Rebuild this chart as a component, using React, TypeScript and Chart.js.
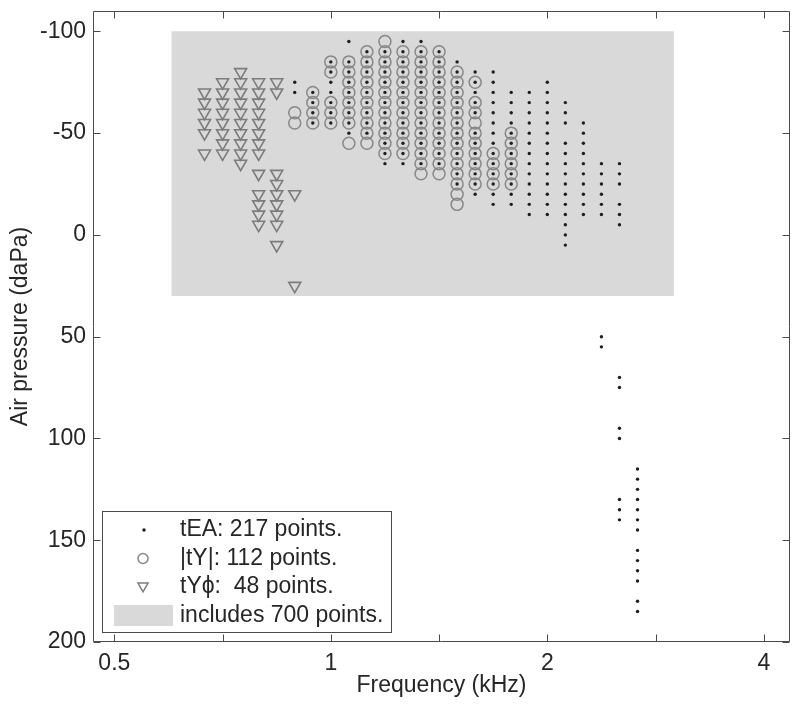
import React, { useEffect, useRef } from 'react';
import { Chart, registerables } from 'chart.js';

Chart.register(...registerables);

// Test frequencies in 1/12-octave steps (kHz)
const FREQ_KHZ = [
  0.6674, 0.7071, 0.7492, 0.7937, 0.8409, 0.8909, 0.9439, 1.0, 1.0595, 1.1225,
  1.1892, 1.2599, 1.3348, 1.4142, 1.4983, 1.5874, 1.6818, 1.7818, 1.8877, 2.0,
  2.1189, 2.2449, 2.3784, 2.5198, 2.6697,
];

// tEA: air pressures (daPa) per frequency column
const TEA_DAPA: number[][] = [
  [], [], [], [], [],
  [-75, -70],
  [-70, -65, -60, -55],
  [-85, -80, -75, -70, -65, -60, -55],
  [-95, -85, -80, -75, -70, -65, -60, -55, -50],
  [-90, -85, -80, -75, -70, -65, -60, -55, -50],
  [-90, -85, -80, -75, -70, -65, -60, -55, -50, -45, -40, -35],
  [-95, -90, -85, -80, -75, -70, -65, -60, -55, -50, -45, -40, -35],
  [-95, -90, -85, -80, -75, -70, -65, -60, -55, -50, -45, -40, -35],
  [-90, -85, -80, -75, -70, -65, -60, -55, -50, -45, -40, -35],
  [-85, -80, -75, -70, -65, -60, -55, -50, -45, -40, -35, -30, -25],
  [-80, -75, -70, -65, -60, -50, -45, -40, -35, -30, -25, -20],
  [-80, -75, -70, -65, -60, -55, -50, -45, -40, -35, -30, -25, -20, -15],
  [-70, -65, -60, -55, -50, -45, -40, -35, -30, -25, -20, -15],
  [-70, -65, -60, -55, -50, -45, -40, -35, -30, -25, -20, -15, -10],
  [-75, -70, -65, -60, -55, -50, -45, -40, -35, -30, -25, -20, -15, -10],
  [-65, -60, -55, -45, -40, -35, -30, -25, -20, -15, -10, -5, 0, 5],
  [-55, -50, -45, -40, -35, -30, -25, -20, -15, -10],
  [-35, -30, -25, -20, -15, -10, 50, 55],
  [-35, -30, -25, -15, -10, -5, 70, 75, 95, 100, 130, 135, 140],
  [115, 120, 125, 130, 135, 140, 145, 155, 160, 165, 170, 180, 185],
];

// |tY|: air pressures (daPa) per frequency column
const TY_MAG_DAPA: number[][] = [
  [], [], [], [], [],
  [-60, -55],
  [-70, -65, -60, -55],
  [-85, -80, -65, -60, -55],
  [-85, -80, -75, -70, -65, -60, -55, -45],
  [-90, -85, -80, -75, -70, -65, -60, -55, -50, -45],
  [-95, -90, -85, -80, -75, -70, -65, -60, -55, -50, -45, -40],
  [-90, -85, -80, -75, -70, -65, -60, -55, -50, -45, -40],
  [-90, -85, -80, -75, -70, -65, -60, -55, -50, -45, -40, -35, -30],
  [-90, -85, -80, -75, -70, -65, -60, -55, -50, -45, -40, -35, -30],
  [-80, -75, -70, -65, -60, -55, -50, -45, -40, -35, -30, -25, -20, -15],
  [-75, -65, -60, -55, -50, -45, -40, -35, -30, -25],
  [-40, -35, -30, -25],
  [-50, -45, -40, -35, -30, -25],
  [], [], [], [], [], [], [],
];

// tYphi: air pressures (daPa) per frequency column
const TY_PHASE_DAPA: number[][] = [
  [-70, -65, -60, -55, -50, -40],
  [-75, -70, -65, -60, -55, -50, -45, -40],
  [-80, -75, -70, -65, -60, -55, -50, -45, -40, -35],
  [-75, -70, -65, -60, -55, -50, -45, -40, -30, -20, -15, -10, -5],
  [-75, -70, -30, -25, -20, -15, -10, -5, 5],
  [-20, 25],
  [], [], [], [], [], [], [], [], [], [], [], [], [], [], [], [], [], [], [],
];

// Shaded region that includes 700 points
const REGION_FREQ_KHZ = [0.6, 3.0];
const REGION_DAPA = [-100, 30];

const X_LIMITS = [0.467, 4.35];
const Y_LIMITS = [-110, 200];
const X_TICKS = [0.5, 0.7071, 1, 1.4142, 2, 2.8284, 4];
const X_TICK_LABELS = ['0.5', '', '1', '', '2', '', '4'];
const Y_TICKS = [-100, -50, 0, 50, 100, 150, 200];

const LEGEND_LABELS = [
  'tEA: 217 points.',
  '|tY|: 112 points.',
  'tY\u03D5:  48 points.',
  'includes 700 points.',
];

const FONT_FAMILY = '"Liberation Sans", Arial, Helvetica, sans-serif';
const FONT_SIZE = 23;
const TEXT_COLOR = '#262626';
const AXIS_COLOR = '#4a4a4a';
const REGION_COLOR = '#d9d9d9';
const DOT_COLOR = '#1e1e1e';
const CIRCLE_COLOR = '#888888';
const TRI_COLOR = '#7c7c7c';

function toPoints(cols: number[][]) {
  const pts: { x: number; y: number }[] = [];
  cols.forEach((col, i) => col.forEach((p) => pts.push({ x: FREQ_KHZ[i], y: p })));
  return pts;
}

const boxPlugin = {
  id: 'matlabBox',
  afterDatasetsDraw(chart: any) {
    const { ctx, chartArea: a, scales } = chart;
    const L = Math.round(a.left) + 0.5;
    const R = Math.round(a.right) - 0.5;
    const T = Math.round(a.top) + 0.5;
    const B = Math.round(a.bottom) - 0.5;
    const tl = 7;
    ctx.save();
    ctx.strokeStyle = AXIS_COLOR;
    ctx.lineWidth = 1;
    ctx.beginPath();
    ctx.rect(L, T, R - L, B - T);
    X_TICKS.forEach((v) => {
      const x = Math.round(scales.x.getPixelForValue(v)) + 0.5;
      ctx.moveTo(x, B);
      ctx.lineTo(x, B - tl);
      ctx.moveTo(x, T);
      ctx.lineTo(x, T + tl);
    });
    Y_TICKS.forEach((v) => {
      const y = Math.round(scales.y.getPixelForValue(v)) + 0.5;
      ctx.moveTo(L, y);
      ctx.lineTo(L + tl, y);
      ctx.moveTo(R, y);
      ctx.lineTo(R - tl, y);
    });
    ctx.stroke();
    ctx.restore();
  },
};

const legendPlugin = {
  id: 'matlabLegend',
  afterDraw(chart: any) {
    const { ctx } = chart;
    const bx = 102.5, by = 511.5, bw = 289, bh = 121;
    const rows = [530, 558.5, 587, 615.5];
    const mx = 144;
    const tx = 180;
    ctx.save();
    ctx.fillStyle = '#ffffff';
    ctx.fillRect(bx, by, bw, bh);
    ctx.strokeStyle = AXIS_COLOR;
    ctx.lineWidth = 1;
    ctx.strokeRect(bx, by, bw, bh);

    // dot
    ctx.fillStyle = DOT_COLOR;
    ctx.beginPath();
    ctx.arc(mx, rows[0], 1.7, 0, Math.PI * 2);
    ctx.fill();
    // circle
    ctx.strokeStyle = CIRCLE_COLOR;
    ctx.lineWidth = 1.5;
    ctx.beginPath();
    ctx.arc(mx - 1, rows[1], 5, 0, Math.PI * 2);
    ctx.stroke();
    // triangle (down)
    ctx.strokeStyle = TRI_COLOR;
    const r = 5.8;
    const cy = rows[2] - 1;
    ctx.beginPath();
    ctx.moveTo(mx - 1, cy + r);
    ctx.lineTo(mx - 1 - r * 0.866, cy - r * 0.5);
    ctx.lineTo(mx - 1 + r * 0.866, cy - r * 0.5);
    ctx.closePath();
    ctx.stroke();
    // patch
    ctx.fillStyle = REGION_COLOR;
    ctx.fillRect(114, 605, 59, 21);

    ctx.fillStyle = TEXT_COLOR;
    ctx.font = `${FONT_SIZE}px ${FONT_FAMILY}`;
    ctx.textBaseline = 'middle';
    ctx.textAlign = 'left';
    LEGEND_LABELS.forEach((t, i) => ctx.fillText(t, tx, rows[i]));
    ctx.restore();
  },
};

export default function App() {
  const ref = useRef<HTMLCanvasElement | null>(null);

  useEffect(() => {
    if (!ref.current) return;
    Chart.defaults.font.family = FONT_FAMILY;
    const font = { family: FONT_FAMILY, size: FONT_SIZE };
    const chart = new Chart(ref.current, {
      type: 'scatter',
      data: {
        datasets: [
          {
            label: 'region',
            type: 'line',
            data: [
              { x: REGION_FREQ_KHZ[0], y: REGION_DAPA[0] },
              { x: REGION_FREQ_KHZ[1], y: REGION_DAPA[0] },
            ],
            fill: { value: REGION_DAPA[1] },
            backgroundColor: REGION_COLOR,
            borderWidth: 0,
            borderColor: 'rgba(0,0,0,0)',
            pointRadius: 0,
            order: 4,
          } as any,
          {
            label: 'tYphi',
            data: toPoints(TY_PHASE_DAPA),
            pointStyle: 'triangle',
            pointRotation: 180,
            pointRadius: 6.9,
            pointBorderWidth: 1.6,
            pointBorderColor: TRI_COLOR,
            pointBackgroundColor: 'rgba(0,0,0,0)',
            order: 3,
          } as any,
          {
            label: '|tY|',
            data: toPoints(TY_MAG_DAPA),
            pointStyle: 'circle',
            pointRadius: 6,
            pointBorderWidth: 1.5,
            pointBorderColor: CIRCLE_COLOR,
            pointBackgroundColor: 'rgba(0,0,0,0)',
            order: 2,
          } as any,
          {
            label: 'tEA',
            data: toPoints(TEA_DAPA),
            pointStyle: 'circle',
            pointRadius: 1.7,
            pointBorderWidth: 0,
            pointBackgroundColor: DOT_COLOR,
            order: 1,
          } as any,
        ],
      },
      options: {
        responsive: false,
        maintainAspectRatio: false,
        animation: false,
        devicePixelRatio: 1,
        events: [],
        layout: { padding: { top: 11, right: 10, left: 0, bottom: 0 } },
        plugins: {
          legend: { display: false },
          tooltip: { enabled: false },
        },
        scales: {
          x: {
            type: 'logarithmic',
            min: X_LIMITS[0],
            max: X_LIMITS[1],
            afterBuildTicks: (s: any) => {
              s.ticks = X_TICKS.map((v) => ({ value: v }));
            },
            afterFit: (s: any) => {
              s.height = 67;
              s.paddingLeft = 0;
              s.paddingRight = 0;
              s.paddingTop = 0;
              s.paddingBottom = 0;
            },
            ticks: {
              callback: (_v: any, i: number) => X_TICK_LABELS[i],
              autoSkip: false,
              maxRotation: 0,
              minRotation: 0,
              padding: 8,
              color: TEXT_COLOR,
              font,
            },
            grid: { display: false, drawTicks: false },
            border: { display: false },
            title: {
              display: true,
              text: 'Frequency (kHz)',
              color: TEXT_COLOR,
              font,
              padding: { top: 0, bottom: 10 },
            },
          },
          y: {
            type: 'linear',
            reverse: true,
            min: Y_LIMITS[0],
            max: Y_LIMITS[1],
            afterBuildTicks: (s: any) => {
              s.ticks = Y_TICKS.map((v) => ({ value: v }));
            },
            afterFit: (s: any) => {
              s.width = 93;
              s.paddingLeft = 0;
              s.paddingRight = 0;
              s.paddingTop = 0;
              s.paddingBottom = 0;
            },
            ticks: {
              callback: (v: any) => String(v),
              padding: 7,
              color: TEXT_COLOR,
              font,
            },
            grid: { display: false, drawTicks: false },
            border: { display: false },
            title: {
              display: true,
              text: 'Air pressure (daPa)',
              color: TEXT_COLOR,
              font,
              padding: { top: 7, bottom: 0 },
            },
          },
        },
      } as any,
      plugins: [boxPlugin, legendPlugin],
    });
    return () => chart.destroy();
  }, []);

  return (
    <div style={{ position: 'absolute', left: 0, top: 0, width: 800, height: 709, background: '#fff' }}>
      <canvas ref={ref} width={800} height={709} style={{ display: 'block', width: 800, height: 709 }} />
    </div>
  );
}
